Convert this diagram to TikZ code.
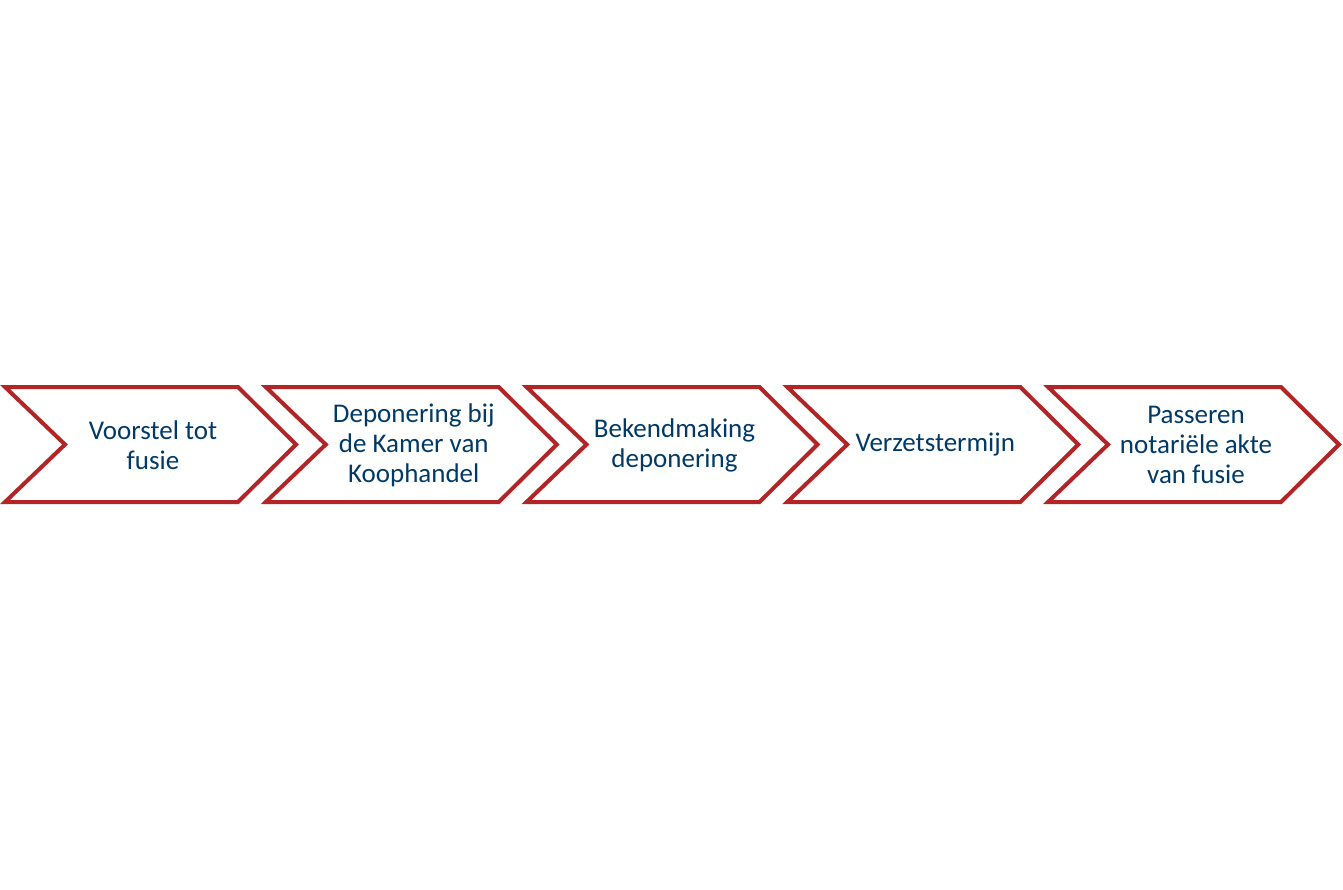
\documentclass[tikz,border=0pt]{standalone}
\usepackage{fontspec}
\setmainfont{Carlito}
\definecolor{chevred}{RGB}{178,36,38}
\definecolor{textblue}{RGB}{0,58,104}
\begin{document}
\begin{tikzpicture}[x=1pt,y=-1pt,
  chev/.style={draw=chevred,line width=4pt,line join=miter,fill=white},
  lbl/.style={text=textblue,align=center,font=\fontsize{27}{30}\selectfont,inner sep=0pt}]
\useasboundingbox[fill=white] (0,0) rectangle (1343,889);
\foreach \i/\t in {0/{Voorstel tot\\fusie},1/{Deponering bij\\de Kamer van\\Koophandel},2/{Bekendmaking\\deponering},3/{Verzetstermijn},4/{Passeren\\notariële akte\\van fusie}}{
  \pgfmathsetmacro{\x}{5+260.75*\i}
  \draw[chev] (\x,387) -- ++(233,0) -- ++(58,57.5) -- ++(-58,57.5) -- ++(-233,0) -- ++(60,-57.5) -- cycle;
  \node[lbl] (s\i) at (\x+148,445) {\t};
}
\end{tikzpicture}
\end{document}
